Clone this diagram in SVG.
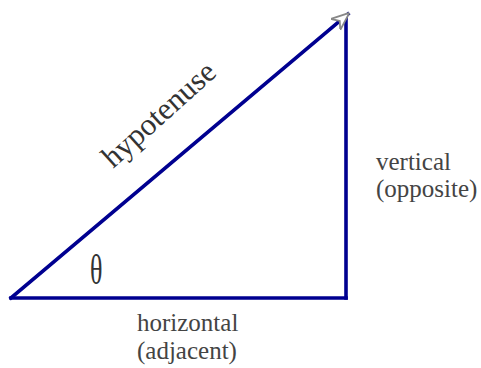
<svg xmlns="http://www.w3.org/2000/svg" width="481" height="368" viewBox="0 0 481 368">
<style>
.edge{stroke:#000090;stroke-width:3.6;fill:none;stroke-linecap:square}
.lbl{font-family:"Liberation Serif",serif;fill:#444;font-size:25px}
</style>
<defs>
<marker id="ah" viewBox="0 0 10 10" refX="9" refY="5" markerWidth="5" markerHeight="5" orient="auto" markerUnits="strokeWidth">
<path d="M0,1 L10,5 L0,9 L3,5 Z" fill="#fff" stroke="#888" stroke-width="1"/>
</marker>
</defs>
<rect width="481" height="368" fill="#fff"/>
<g id="connectors">
<line class="edge" x1="11" y1="298" x2="346" y2="298"/>
<line class="edge" x1="346" y1="298" x2="346" y2="16"/>
<line class="edge" x1="11" y1="298" x2="348" y2="14" marker-end="url(#ah)"/>
</g>
<g id="hypotenuse-label">
<text class="lbl" style="font-size:31px;fill:#333" transform="translate(113,169) rotate(-42)">hypotenuse</text>
</g>
<g id="theta">
<text transform="translate(90,284) scale(0.62,1)" style="font-family:'Liberation Serif',serif;font-size:42px;fill:#333">θ</text>
</g>
<g id="vertical-label">
<text class="lbl" x="376" y="170">vertical</text>
<text class="lbl" x="376" y="197">(opposite)</text>
</g>
<g id="horizontal-label">
<text class="lbl" x="137" y="331">horizontal</text>
<text class="lbl" x="137" y="359">(adjacent)</text>
</g>
</svg>
